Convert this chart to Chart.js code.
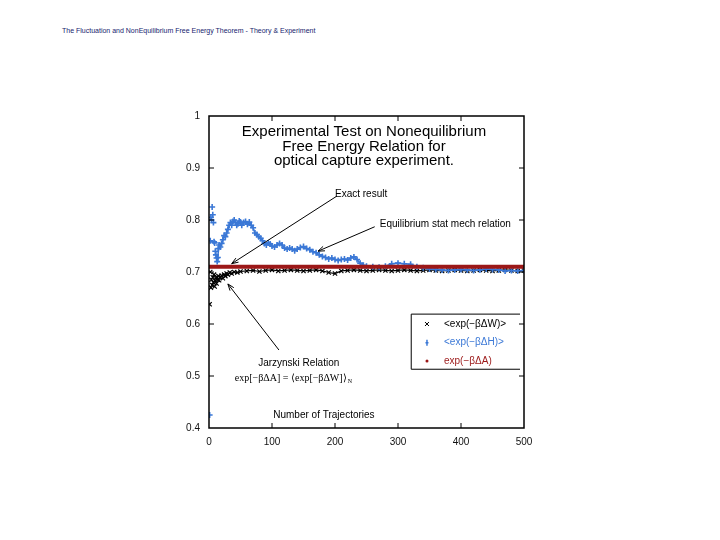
<!DOCTYPE html>
<html lang="en">
  <head>
    <meta charset="UTF-8" />
    <title>Nonequilibrium Free Energy Relation</title>
    <script src="https://cdn.jsdelivr.net/npm/chart.js"></script>
    <style>
      body { margin: 0; width: 720px; height: 540px; background: #fff; overflow: hidden; }
      #header {
        position: absolute; left: 62px; top: 27px;
        font: 7px "Liberation Sans", Arial, sans-serif; color: #16236e;
      }
      #wrap { position: absolute; left: 0; top: 0; width: 720px; height: 540px; }
    </style>
  </head>
  <body>
    <div id="header">The Fluctuation and NonEquilibrium Free Energy Theorem - Theory &amp; Experiment</div>
    <div id="wrap"><canvas id="chart"></canvas></div>
    <script>
      // number of trajectories and <exp(-bDH)> (blue)
      const trajH = [1, 2, 3, 4, 5, 6, 7, 8, 9, 10, 11, 12, 13, 14, 15, 16, 18, 20, 22, 24,
        26, 28, 30, 32, 34, 36, 38, 40, 42, 44, 46, 48, 50, 52, 55, 58, 61, 64, 67, 70,
        73, 76, 79, 82, 85, 88, 91, 94, 97, 100, 104, 108, 112, 116, 120, 124, 128, 132, 136, 140,
        145, 150, 155, 160, 165, 170, 175, 180, 185, 190, 195, 200, 205, 210, 215, 220, 225, 230, 235, 240,
        245, 250, 260, 270, 280, 290, 300, 310, 320, 330, 340, 350, 360, 370, 380, 390, 400, 410, 420, 430,
        440, 450, 460, 470, 480, 490, 500];
      const valH = [0.425, 0.76, 0.805, 0.80, 0.825, 0.81, 0.795, 0.758, 0.756, 0.74, 0.733, 0.727, 0.72, 0.728, 0.745, 0.752, 0.748, 0.755, 0.762, 0.77,
        0.768, 0.775, 0.782, 0.79, 0.795, 0.79, 0.797, 0.80, 0.795, 0.79, 0.793, 0.798, 0.796, 0.79, 0.795, 0.797, 0.792, 0.796, 0.79, 0.785,
        0.775, 0.772, 0.768, 0.765, 0.76, 0.755, 0.752, 0.756, 0.754, 0.75, 0.748, 0.752, 0.755, 0.752, 0.746, 0.744, 0.746, 0.744, 0.741, 0.744,
        0.747, 0.749, 0.745, 0.743, 0.739, 0.737, 0.733, 0.73, 0.728, 0.725, 0.727, 0.724, 0.722, 0.724, 0.725, 0.723, 0.727, 0.729, 0.724, 0.717,
        0.713, 0.711, 0.71, 0.709, 0.711, 0.716, 0.717, 0.716, 0.715, 0.71, 0.708, 0.706, 0.705, 0.704, 0.703, 0.704, 0.705, 0.704, 0.703, 0.704,
        0.706, 0.705, 0.704, 0.702, 0.703, 0.702, 0.703];

      // number of trajectories and <exp(-bDW)> (black)
      const trajW = [1, 2, 3, 4, 5, 6, 7, 8, 9, 10, 11, 12, 13, 14, 15, 16, 18, 20, 22, 24,
        26, 28, 30, 33, 36, 40, 45, 50, 60, 70, 80, 90, 100, 110, 120, 130, 140, 150,
        160, 170, 180, 190, 200, 210, 220, 230, 240, 250, 260, 270, 280, 290, 300, 310, 320, 330, 340, 350,
        360, 370, 380, 390, 400, 410, 420, 430, 440, 450, 460, 470, 480, 490, 500];
      const valW = [0.638, 0.70, 0.67, 0.685, 0.675, 0.69, 0.68, 0.695, 0.672, 0.683, 0.688, 0.678, 0.69, 0.685, 0.692, 0.684, 0.69, 0.693, 0.688, 0.695,
        0.692, 0.697, 0.695, 0.699, 0.697, 0.70, 0.699, 0.701, 0.702, 0.703, 0.701, 0.703, 0.704, 0.702, 0.703, 0.704, 0.703, 0.702,
        0.703, 0.704, 0.702, 0.699, 0.697, 0.702, 0.703, 0.704, 0.703, 0.702, 0.703, 0.704, 0.703, 0.702, 0.703, 0.704, 0.703, 0.702, 0.703, 0.704,
        0.703, 0.702, 0.703, 0.704, 0.703, 0.702, 0.703, 0.704, 0.703, 0.702, 0.703, 0.704, 0.703, 0.702, 0.703];

      // exact exp(-bDA) (red)
      const trajA = [0, 500];
      const valA = [0.71, 0.71];

      const xTicks = [0, 100, 200, 300, 400, 500];
      const yTicks = [0.4, 0.5, 0.6, 0.7, 0.8, 0.9, 1];

      const titleLines = [
        "Experimental Test on Nonequilibrium",
        "Free Energy Relation for",
        "optical capture experiment.",
      ];

      const pts = (xs, ys) => xs.map((x, i) => ({ x: x, y: ys[i] }));

      const blue = "#3b78d6";
      const red = "#9c1818";

      // the first, scattered trajectories are shown as markers only
      const scatterStart = (n) => ({
        borderColor: (ctx) => (ctx.p0DataIndex < n ? "transparent" : undefined),
      });

      // frame, inward ticks, notes, legend
      const extras = {
        id: "extras",
        afterDraw(chart) {
          const c = chart.ctx;
          const sx = chart.scales.x;
          const sy = chart.scales.y;
          const a = chart.chartArea;
          const px = (v) => sx.getPixelForValue(v);
          const py = (v) => sy.getPixelForValue(v);
          c.save();
          c.strokeStyle = "#000";
          c.lineWidth = 1.5;
          c.strokeRect(a.left, a.top, a.right - a.left, a.bottom - a.top);
          c.lineWidth = 1;
          xTicks.slice(1, -1).forEach((t) => {
            c.beginPath();
            c.moveTo(px(t), a.bottom); c.lineTo(px(t), a.bottom - 5);
            c.moveTo(px(t), a.top); c.lineTo(px(t), a.top + 5);
            c.stroke();
          });
          yTicks.slice(1, -1).forEach((t) => {
            c.beginPath();
            c.moveTo(a.left, py(t)); c.lineTo(a.left + 5, py(t));
            c.moveTo(a.right, py(t)); c.lineTo(a.right - 5, py(t));
            c.stroke();
          });

          // title
          c.fillStyle = "#000";
          c.font = '15px "Liberation Sans", Arial, sans-serif';
          c.textAlign = "center";
          c.textBaseline = "middle";
          titleLines.forEach((s, i) => c.fillText(s, px(246), py(0.969) + i * 14.5));

          // notes
          c.font = '10px "Liberation Sans", Arial, sans-serif';
          c.textAlign = "left";
          c.fillText("Exact result", px(200), py(0.85));
          c.fillText("Equilibrium stat mech relation", px(271), py(0.792));
          c.fillText("Jarzynski Relation", px(78), py(0.525));
          c.fillText("Number of Trajectories", px(102), py(0.425));

          const formula = "exp[\u2212\u03b2\u0394A] = \u27e8exp[\u2212\u03b2\u0394W]\u27e9";
          c.font = '10px "Liberation Serif", "Times New Roman", serif';
          c.fillText(formula, px(41), py(0.495));
          const fw = c.measureText(formula).width;
          c.font = '6px "Liberation Serif", serif';
          c.fillText("N", px(41) + fw + 1, py(0.495) + 3);

          const arrow = (x0, y0, x1, y1) => {
            const X0 = px(x0), Y0 = py(y0), X1 = px(x1), Y1 = py(y1);
            const ang = Math.atan2(Y1 - Y0, X1 - X0);
            c.beginPath();
            c.moveTo(X0, Y0); c.lineTo(X1, Y1);
            c.moveTo(X1 - 7 * Math.cos(ang - 0.35), Y1 - 7 * Math.sin(ang - 0.35));
            c.lineTo(X1, Y1);
            c.lineTo(X1 - 7 * Math.cos(ang + 0.35), Y1 - 7 * Math.sin(ang + 0.35));
            c.strokeStyle = "#000";
            c.lineWidth = 1;
            c.stroke();
          };
          arrow(203, 0.846, 36, 0.716);
          arrow(263, 0.787, 173, 0.74);
          arrow(111, 0.55, 30, 0.677);

          // legend
          const lx = px(321), rx = a.right - 4, ty = py(0.619), by = py(0.513);
          c.beginPath();
          c.moveTo(rx, ty); c.lineTo(lx, ty); c.lineTo(lx, by); c.lineTo(rx, by);
          c.lineWidth = 1;
          c.stroke();
          const rows = [0.6, 0.564, 0.529];
          c.font = '10px "Liberation Sans", Arial, sans-serif';
          chart.data.datasets.forEach((d, i) => {
            const y = py(rows[i]);
            const mx = px(346);
            c.strokeStyle = d.backgroundColor;
            c.fillStyle = d.backgroundColor;
            c.beginPath();
            if (i === 0) {
              c.moveTo(mx - 2, y - 2); c.lineTo(mx + 2, y + 2);
              c.moveTo(mx + 2, y - 2); c.lineTo(mx - 2, y + 2);
              c.stroke();
            } else if (i === 1) {
              c.moveTo(mx, y - 3); c.lineTo(mx, y + 3);
              c.moveTo(mx - 1.5, y); c.lineTo(mx + 1.5, y);
              c.lineWidth = 1.5;
              c.stroke();
            } else {
              c.arc(mx, y, 1.5, 0, Math.PI * 2);
              c.fill();
            }
            c.fillText(d.label, px(373), y);
          });
          c.restore();
        },
      };

      new Chart(document.getElementById("chart"), {
        type: "scatter",
        data: {
          datasets: [
            {
              label: "<exp(\u2212\u03b2\u0394W)>",
              data: pts(trajW, valW),
              borderColor: "#000",
              backgroundColor: "#000",
              pointStyle: "crossRot",
              pointRadius: 3,
              borderWidth: 1.2,
              showLine: true,
              segment: scatterStart(20),
              order: 2,
            },
            {
              label: "<exp(\u2212\u03b2\u0394H)>",
              data: pts(trajH, valH),
              borderColor: blue,
              backgroundColor: blue,
              pointStyle: "cross",
              pointRadius: 3,
              borderWidth: 1.6,
              showLine: true,
              segment: scatterStart(12),
              order: 1,
            },
            {
              label: "exp(\u2212\u03b2\u0394A)",
              data: pts(trajA, valA),
              borderColor: red,
              backgroundColor: red,
              pointRadius: 0,
              borderWidth: 4,
              showLine: true,
              order: 0,
            },
          ],
        },
        options: {
          responsive: true,
          maintainAspectRatio: false,
          animation: false,
          layout: { padding: { left: 159, right: 196, top: 116, bottom: 88 } },
          plugins: { legend: { display: false }, tooltip: { enabled: false } },
          scales: {
            x: {
              type: "linear",
              min: 0,
              max: 500,
              afterFit: (s) => { s.height = 24; },
              afterBuildTicks: (s) => { s.ticks = xTicks.map((v) => ({ value: v })); },
              grid: { display: false },
              border: { display: false },
              ticks: { color: "#111", padding: 0, maxRotation: 0, font: { size: 10, family: "Liberation Sans" } },
            },
            y: {
              min: 0.4,
              max: 1,
              afterFit: (s) => { s.width = 50; },
              afterBuildTicks: (s) => { s.ticks = yTicks.map((v) => ({ value: v })); },
              grid: { display: false },
              border: { display: false },
              ticks: {
                color: "#111",
                padding: 1,
                font: { size: 10, family: "Liberation Sans" },
                callback: (v) => (v === 1 ? "1" : v.toFixed(1)),
              },
            },
          },
        },
        plugins: [extras],
      });
    </script>
  </body>
</html>
